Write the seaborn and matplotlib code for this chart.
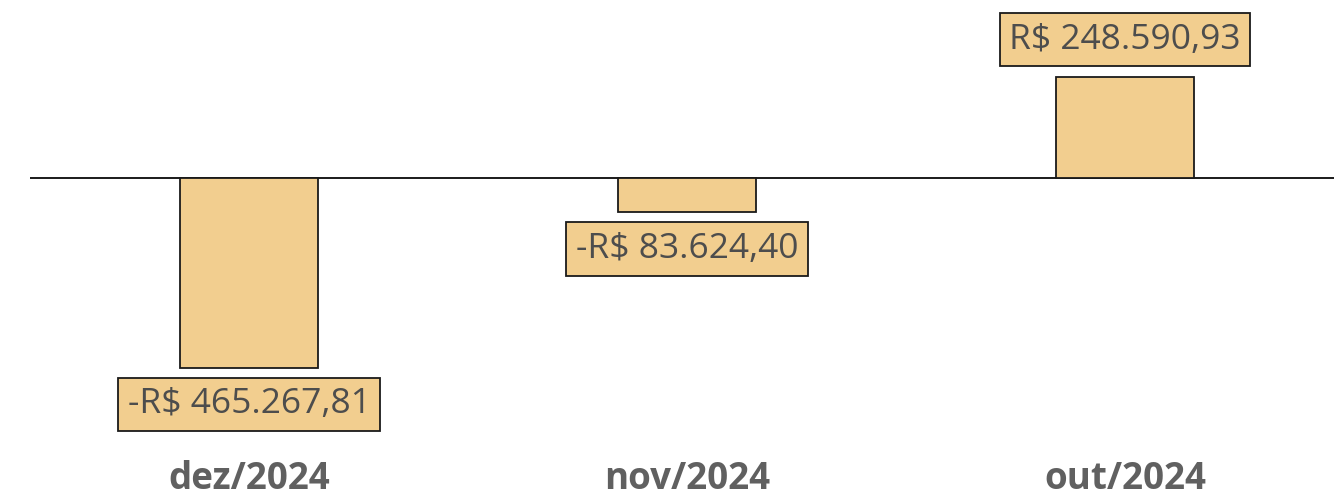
import pandas as pd
import seaborn as sns
import matplotlib.pyplot as plt

meses = ["dez/2024", "nov/2024", "out/2024"]
valores = [-465267.81, -83624.40, 248590.93]


def brl(v):
    s = f"{abs(v):,.2f}".replace(",", "X").replace(".", ",").replace("X", ".")
    return ("-R$ " if v < 0 else "R$ ") + s


df = pd.DataFrame({"mes": meses, "valor": valores})

sns.set_style("white")
plt.rcParams["font.family"] = ["Open Sans", "DejaVu Sans"]

fig = plt.figure(figsize=(13.34, 4.98), dpi=100)
ax = fig.add_axes([30 / 1334, 1 - 445 / 498, 1 - 30 / 1334, 445 / 498])

cor = "#F2CE8F"
sns.barplot(data=df, x="mes", y="valor", color=cor, saturation=1,
            edgecolor="#1a1a1a", linewidth=1.3, width=0.315, ax=ax)

ax.axhline(0, color="#1a1a1a", linewidth=1.4, zorder=0)

# data labels in boxes
for i, v in enumerate(valores):
    off = 26.6 if v > 0 else -26.6
    ax.annotate(brl(v), (i, v), xytext=(0, off), textcoords="offset points",
                ha="center", va="center", fontsize=25.5, color="#4d4d4d",
                bbox=dict(boxstyle="square,pad=0.27", facecolor=cor,
                          edgecolor="#1a1a1a", linewidth=1.3))

ax.set_xlim(-0.5, 2.477)
ax.set_ylim(-267 * 2455, 178 * 2455)
ax.set_xlabel("")
ax.set_ylabel("")
ax.set_yticks([])
ax.tick_params(axis="x", length=0, pad=11)
for t in ax.get_xticklabels():
    t.set_fontweight("bold")
    t.set_fontsize(26.5)
    t.set_color("#606060")
sns.despine(ax=ax, left=True, bottom=True)

fig.savefig("out.png", dpi=100)
